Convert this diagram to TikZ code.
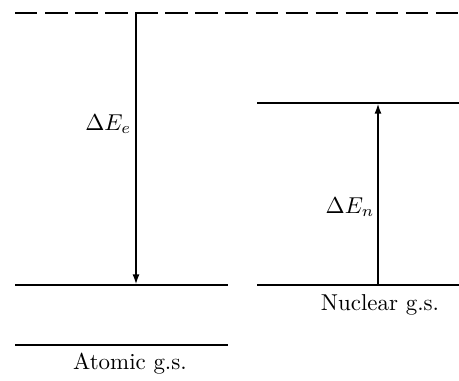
\documentclass[tikz,border=0pt]{standalone}
\usepackage{amsmath}
\usetikzlibrary{arrows.meta}

\begin{document}
\begin{tikzpicture}[x=0.4357pt,y=-0.4357pt,>={Latex[length=4.6pt,width=3pt]},
  line cap=butt,
  level/.style={line width=1.3pt},
  virtual/.style={line width=1.3pt,dash pattern=on 9.8pt off 3.3pt},
  trans/.style={->,line width=1pt},
  lab/.style={inner sep=1pt}]
\path[use as bounding box] (0,0) rectangle (459,381);
\fill[white] (0,0) rectangle (459,381);
% levels
\coordinate (vl) at (15,13);   \coordinate (vr) at (459,13);
\coordinate (al) at (15,285);  \coordinate (ar) at (228,285);
\coordinate (gl) at (15,345);  \coordinate (gr) at (228,345);
\coordinate (nl) at (257,103); \coordinate (nr) at (459,103);
\coordinate (ml) at (257,285); \coordinate (mr) at (459,285);
\draw[virtual] (vl) -- (vr);
\draw[level] (al) -- (ar);
\draw[level] (gl) -- (gr);
\draw[level] (nl) -- (nr);
\draw[level] (ml) -- (mr);
% transitions
\coordinate (etop) at (136,13);  \coordinate (ebot) at (136,285);
\coordinate (nbot) at (378,285); \coordinate (ntop) at (378,103);
\draw[trans] (etop) -- (ebot);
\draw[trans] (nbot) -- (ntop);
\node[lab,anchor=east] (de) at (134,124) {$\Delta E_e$};
\node[lab,anchor=east] (dn) at (377,207) {$\Delta E_n$};
\node[lab] (ags) at (130,364) {Atomic g.s.};
\node[lab] (ngs) at (380,305) {Nuclear g.s.};
\end{tikzpicture}
\end{document}
